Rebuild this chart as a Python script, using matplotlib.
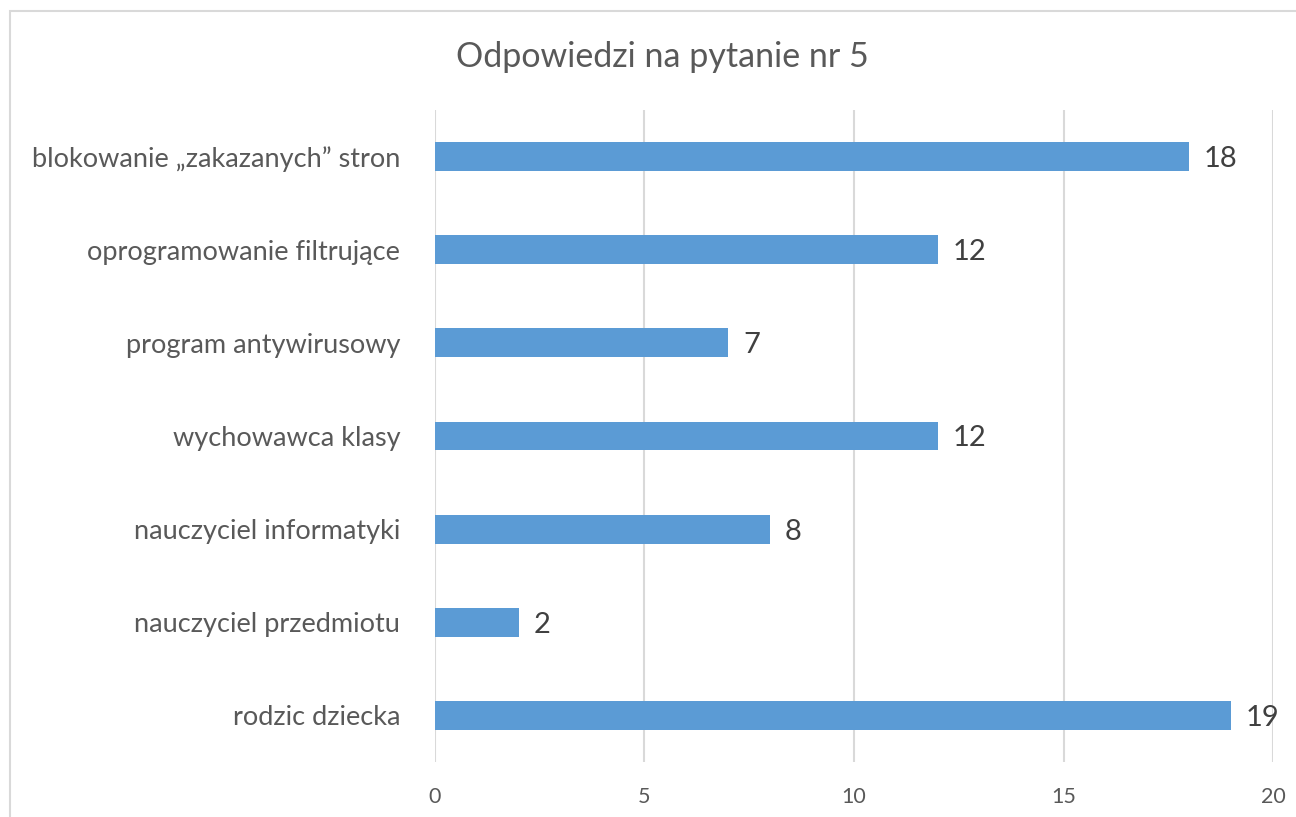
import matplotlib.pyplot as plt
from matplotlib.patches import Rectangle

# Answers to question 5 (top to bottom as shown)
categories = ['blokowanie „zakazanych” stron', 'oprogramowanie filtrujące',
              'program antywirusowy', 'wychowawca klasy',
              'nauczyciel informatyki', 'nauczyciel przedmiotu', 'rodzic dziecka']
counts = [18, 12, 7, 12, 8, 2, 19]
xticks = [0, 5, 10, 15, 20]

plt.rcParams['font.family'] = ['Lato', 'DejaVu Sans']

fig = plt.figure(figsize=(12.96, 8.17), dpi=100)
ax = fig.add_axes([0.3356, 0.0673, 0.6467, 0.7981])

# light frame around the chart area (cut at right/bottom like the source)
fig.patches.append(Rectangle((10 / 1296, -0.1), 2, 1 - 11 / 817 + 0.1,
                             transform=fig.transFigure, fill=False,
                             edgecolor='#d9d9d9', linewidth=1.5))

y = list(range(len(categories)))
ax.barh(y, counts, height=0.31, color='#5b9bd5', zorder=3)
for yi, v in zip(y, counts):
    ax.text(v + 0.35, yi, str(v), va='center_baseline', ha='left', fontsize=21, color='#404040')

ax.set_xlim(0, 20)
ax.set_ylim(len(categories) - 0.5, -0.5)
ax.set_xticks(xticks)
ax.set_yticks(y)
ax.set_yticklabels(categories, fontsize=19.5, color='#595959')
ax.tick_params(axis='x', labelsize=15.5, colors='#595959', length=0, pad=18)
ax.tick_params(axis='y', length=0, pad=25)
ax.grid(axis='x', color='#d9d9d9', linewidth=1.5, zorder=0)
for s in ax.spines.values():
    s.set_visible(False)

fig.text(662 / 1296, 1 - 57 / 817, 'Odpowiedzi na pytanie nr 5', ha='center', va='center',
         fontsize=24.5, color='#595959')

fig.savefig('out.png', dpi=100)
